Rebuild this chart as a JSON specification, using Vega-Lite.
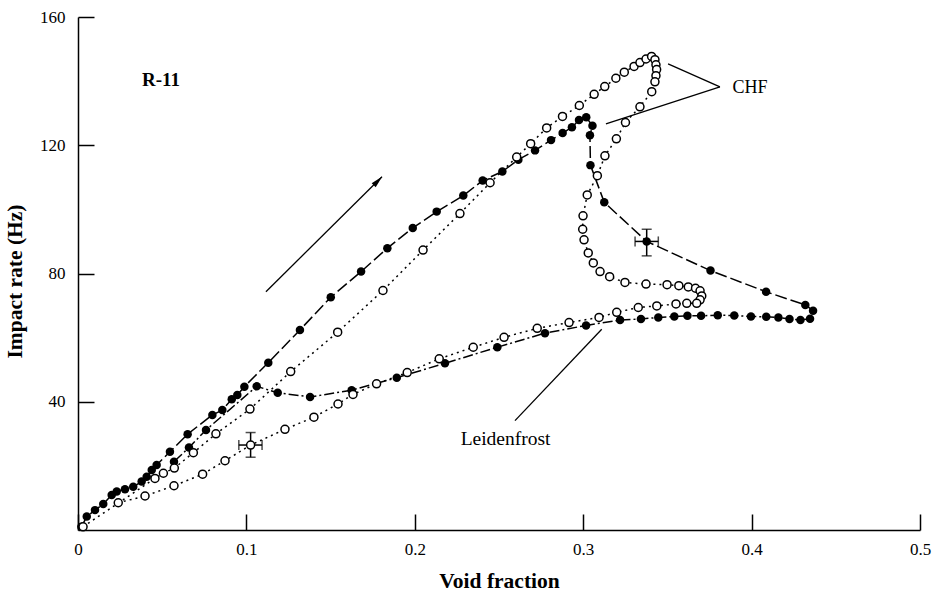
{
  "$schema": "https://vega.github.io/schema/vega-lite/v6.json",
  "width": 842,
  "height": 513,
  "autosize": {"type": "none"},
  "padding": {"left": 78, "top": 17, "right": 14, "bottom": 63},
  "background": "white",
  "config": {
    "view": {"stroke": null},
    "font": "Liberation Serif"
  },
  "datasets": {
    "curves": [
      {"series": "filled_heat", "seq": 1, "void": 0.002, "rate": 1.0},
      {"series": "filled_heat", "seq": 2, "void": 0.0052, "rate": 4.2},
      {"series": "filled_heat", "seq": 3, "void": 0.0101, "rate": 6.2},
      {"series": "filled_heat", "seq": 4, "void": 0.0150, "rate": 8.1},
      {"series": "filled_heat", "seq": 5, "void": 0.0200, "rate": 10.9},
      {"series": "filled_heat", "seq": 6, "void": 0.0230, "rate": 12.0},
      {"series": "filled_heat", "seq": 7, "void": 0.0279, "rate": 12.7},
      {"series": "filled_heat", "seq": 8, "void": 0.0328, "rate": 13.5},
      {"series": "filled_heat", "seq": 9, "void": 0.0378, "rate": 15.1},
      {"series": "filled_heat", "seq": 10, "void": 0.0408, "rate": 16.6},
      {"series": "filled_heat", "seq": 11, "void": 0.0438, "rate": 18.7},
      {"series": "filled_heat", "seq": 12, "void": 0.0467, "rate": 20.3},
      {"series": "filled_heat", "seq": 13, "void": 0.0546, "rate": 24.4},
      {"series": "filled_heat", "seq": 14, "void": 0.0651, "rate": 29.9},
      {"series": "filled_heat", "seq": 15, "void": 0.0798, "rate": 35.9},
      {"series": "filled_heat", "seq": 16, "void": 0.0857, "rate": 37.4},
      {"series": "filled_heat", "seq": 17, "void": 0.0913, "rate": 40.8},
      {"series": "filled_heat", "seq": 18, "void": 0.0946, "rate": 42.1},
      {"series": "filled_heat", "seq": 19, "void": 0.0988, "rate": 44.7},
      {"series": "filled_heat", "seq": 20, "void": 0.1130, "rate": 52.2},
      {"series": "filled_heat", "seq": 21, "void": 0.1318, "rate": 62.4},
      {"series": "filled_heat", "seq": 22, "void": 0.1501, "rate": 72.6},
      {"series": "filled_heat", "seq": 23, "void": 0.1681, "rate": 80.6},
      {"series": "filled_heat", "seq": 24, "void": 0.1837, "rate": 87.9},
      {"series": "filled_heat", "seq": 25, "void": 0.1988, "rate": 94.2},
      {"series": "filled_heat", "seq": 26, "void": 0.2130, "rate": 99.3},
      {"series": "filled_heat", "seq": 27, "void": 0.2288, "rate": 104.3},
      {"series": "filled_heat", "seq": 28, "void": 0.2403, "rate": 109.0},
      {"series": "filled_heat", "seq": 29, "void": 0.2520, "rate": 111.8},
      {"series": "filled_heat", "seq": 30, "void": 0.2615, "rate": 115.5},
      {"series": "filled_heat", "seq": 31, "void": 0.2714, "rate": 118.4},
      {"series": "filled_heat", "seq": 32, "void": 0.2809, "rate": 121.6},
      {"series": "filled_heat", "seq": 33, "void": 0.2878, "rate": 123.8},
      {"series": "filled_heat", "seq": 34, "void": 0.2933, "rate": 125.6},
      {"series": "filled_heat", "seq": 35, "void": 0.2975, "rate": 127.9},
      {"series": "filled_heat", "seq": 36, "void": 0.3018, "rate": 128.7},
      {"series": "filled_heat", "seq": 37, "void": 0.3055, "rate": 126.1},
      {"series": "filled_heat", "seq": 38, "void": 0.3040, "rate": 123.1},
      {"series": "filled_heat", "seq": 39, "void": 0.3043, "rate": 113.8},
      {"series": "filled_heat", "seq": 40, "void": 0.3125, "rate": 102.2},
      {"series": "filled_heat", "seq": 41, "void": 0.3377, "rate": 90.0},
      {"series": "filled_heat", "seq": 42, "void": 0.3756, "rate": 80.9},
      {"series": "filled_heat", "seq": 43, "void": 0.4086, "rate": 74.3},
      {"series": "filled_heat", "seq": 44, "void": 0.4319, "rate": 70.2},
      {"series": "filled_heat", "seq": 45, "void": 0.4365, "rate": 68.4},

      {"series": "filled_cool", "seq": 1, "void": 0.4347, "rate": 65.9},
      {"series": "filled_cool", "seq": 2, "void": 0.4290, "rate": 65.5},
      {"series": "filled_cool", "seq": 3, "void": 0.4225, "rate": 65.8},
      {"series": "filled_cool", "seq": 4, "void": 0.4159, "rate": 66.3},
      {"series": "filled_cool", "seq": 5, "void": 0.4087, "rate": 66.5},
      {"series": "filled_cool", "seq": 6, "void": 0.3996, "rate": 66.6},
      {"series": "filled_cool", "seq": 7, "void": 0.3897, "rate": 66.9},
      {"series": "filled_cool", "seq": 8, "void": 0.3799, "rate": 67.0},
      {"series": "filled_cool", "seq": 9, "void": 0.3700, "rate": 66.8},
      {"series": "filled_cool", "seq": 10, "void": 0.3619, "rate": 66.8},
      {"series": "filled_cool", "seq": 11, "void": 0.3541, "rate": 66.6},
      {"series": "filled_cool", "seq": 12, "void": 0.3446, "rate": 66.3},
      {"series": "filled_cool", "seq": 13, "void": 0.3343, "rate": 65.8},
      {"series": "filled_cool", "seq": 14, "void": 0.3219, "rate": 65.5},
      {"series": "filled_cool", "seq": 15, "void": 0.3017, "rate": 63.8},
      {"series": "filled_cool", "seq": 16, "void": 0.2773, "rate": 61.4},
      {"series": "filled_cool", "seq": 17, "void": 0.2490, "rate": 57.0},
      {"series": "filled_cool", "seq": 18, "void": 0.2179, "rate": 52.0},
      {"series": "filled_cool", "seq": 19, "void": 0.1893, "rate": 47.5},
      {"series": "filled_cool", "seq": 20, "void": 0.1625, "rate": 43.6},
      {"series": "filled_cool", "seq": 21, "void": 0.1378, "rate": 41.5},
      {"series": "filled_cool", "seq": 22, "void": 0.1186, "rate": 42.8},
      {"series": "filled_cool", "seq": 23, "void": 0.1061, "rate": 44.8},
      {"series": "filled_cool", "seq": 24, "void": 0.0760, "rate": 31.2},
      {"series": "filled_cool", "seq": 25, "void": 0.0659, "rate": 25.7},
      {"series": "filled_cool", "seq": 26, "void": 0.0570, "rate": 21.3},

      {"series": "open", "seq": 1, "void": 0.003, "rate": 1.0},
      {"series": "open", "seq": 2, "void": 0.0457, "rate": 16.1},
      {"series": "open", "seq": 3, "void": 0.0507, "rate": 17.7},
      {"series": "open", "seq": 4, "void": 0.0572, "rate": 19.3},
      {"series": "open", "seq": 5, "void": 0.0685, "rate": 24.1},
      {"series": "open", "seq": 6, "void": 0.0819, "rate": 30.0},
      {"series": "open", "seq": 7, "void": 0.1021, "rate": 37.7},
      {"series": "open", "seq": 8, "void": 0.1263, "rate": 49.4},
      {"series": "open", "seq": 9, "void": 0.1542, "rate": 61.7},
      {"series": "open", "seq": 10, "void": 0.1811, "rate": 74.7},
      {"series": "open", "seq": 11, "void": 0.2049, "rate": 87.3},
      {"series": "open", "seq": 12, "void": 0.2268, "rate": 98.7},
      {"series": "open", "seq": 13, "void": 0.2447, "rate": 108.3},
      {"series": "open", "seq": 14, "void": 0.2605, "rate": 116.3},
      {"series": "open", "seq": 15, "void": 0.2688, "rate": 120.5},
      {"series": "open", "seq": 16, "void": 0.2783, "rate": 125.4},
      {"series": "open", "seq": 17, "void": 0.2877, "rate": 129.0},
      {"series": "open", "seq": 18, "void": 0.2977, "rate": 132.4},
      {"series": "open", "seq": 19, "void": 0.3065, "rate": 135.9},
      {"series": "open", "seq": 20, "void": 0.3128, "rate": 138.3},
      {"series": "open", "seq": 21, "void": 0.3194, "rate": 140.9},
      {"series": "open", "seq": 22, "void": 0.3244, "rate": 142.8},
      {"series": "open", "seq": 23, "void": 0.3302, "rate": 144.6},
      {"series": "open", "seq": 24, "void": 0.3337, "rate": 145.8},
      {"series": "open", "seq": 25, "void": 0.3373, "rate": 146.9},
      {"series": "open", "seq": 26, "void": 0.3406, "rate": 147.7},
      {"series": "open", "seq": 27, "void": 0.3426, "rate": 146.7},
      {"series": "open", "seq": 28, "void": 0.3432, "rate": 145.1},
      {"series": "open", "seq": 29, "void": 0.3436, "rate": 143.6},
      {"series": "open", "seq": 30, "void": 0.3432, "rate": 141.7},
      {"series": "open", "seq": 31, "void": 0.3426, "rate": 139.8},
      {"series": "open", "seq": 32, "void": 0.3407, "rate": 136.7},
      {"series": "open", "seq": 33, "void": 0.3337, "rate": 132.0},
      {"series": "open", "seq": 34, "void": 0.3251, "rate": 127.1},
      {"series": "open", "seq": 35, "void": 0.3197, "rate": 122.0},
      {"series": "open", "seq": 36, "void": 0.3129, "rate": 116.7},
      {"series": "open", "seq": 37, "void": 0.3084, "rate": 110.5},
      {"series": "open", "seq": 38, "void": 0.3024, "rate": 104.5},
      {"series": "open", "seq": 39, "void": 0.2999, "rate": 98.0},
      {"series": "open", "seq": 40, "void": 0.2997, "rate": 93.8},
      {"series": "open", "seq": 41, "void": 0.3005, "rate": 90.5},
      {"series": "open", "seq": 42, "void": 0.3030, "rate": 86.4},
      {"series": "open", "seq": 43, "void": 0.3060, "rate": 83.3},
      {"series": "open", "seq": 44, "void": 0.3100, "rate": 80.6},
      {"series": "open", "seq": 45, "void": 0.3157, "rate": 79.0},
      {"series": "open", "seq": 46, "void": 0.3248, "rate": 77.2},
      {"series": "open", "seq": 47, "void": 0.3373, "rate": 76.7},
      {"series": "open", "seq": 48, "void": 0.3498, "rate": 76.5},
      {"series": "open", "seq": 49, "void": 0.3568, "rate": 76.2},
      {"series": "open", "seq": 50, "void": 0.3624, "rate": 75.8},
      {"series": "open", "seq": 51, "void": 0.3667, "rate": 75.4},
      {"series": "open", "seq": 52, "void": 0.3694, "rate": 74.6},
      {"series": "open", "seq": 53, "void": 0.3704, "rate": 73.0},
      {"series": "open", "seq": 54, "void": 0.3694, "rate": 71.8},
      {"series": "open", "seq": 55, "void": 0.3674, "rate": 70.7},
      {"series": "open", "seq": 56, "void": 0.3615, "rate": 70.7},
      {"series": "open", "seq": 57, "void": 0.3551, "rate": 70.5},
      {"series": "open", "seq": 58, "void": 0.3437, "rate": 69.9},
      {"series": "open", "seq": 59, "void": 0.3327, "rate": 69.4},
      {"series": "open", "seq": 60, "void": 0.3199, "rate": 67.9},
      {"series": "open", "seq": 61, "void": 0.3094, "rate": 66.3},
      {"series": "open", "seq": 62, "void": 0.2916, "rate": 64.7},
      {"series": "open", "seq": 63, "void": 0.2727, "rate": 62.9},
      {"series": "open", "seq": 64, "void": 0.2530, "rate": 60.1},
      {"series": "open", "seq": 65, "void": 0.2347, "rate": 57.0},
      {"series": "open", "seq": 66, "void": 0.2145, "rate": 53.4},
      {"series": "open", "seq": 67, "void": 0.1955, "rate": 49.1},
      {"series": "open", "seq": 68, "void": 0.1773, "rate": 45.6},
      {"series": "open", "seq": 69, "void": 0.1633, "rate": 42.3},
      {"series": "open", "seq": 70, "void": 0.1544, "rate": 39.3},
      {"series": "open", "seq": 71, "void": 0.1401, "rate": 35.2},
      {"series": "open", "seq": 72, "void": 0.1229, "rate": 31.4},
      {"series": "open", "seq": 73, "void": 0.1025, "rate": 26.5},
      {"series": "open", "seq": 74, "void": 0.0873, "rate": 21.6},
      {"series": "open", "seq": 75, "void": 0.0740, "rate": 17.4},
      {"series": "open", "seq": 76, "void": 0.0570, "rate": 13.8},
      {"series": "open", "seq": 77, "void": 0.0398, "rate": 10.6},
      {"series": "open", "seq": 78, "void": 0.0239, "rate": 8.5}
    ],
    "errors": [
      {"series": "open", "void": 0.1025, "rate": 26.5, "vlo": 0.0955, "vhi": 0.1093, "rlo": 22.7, "rhi": 30.4},
      {"series": "filled_heat", "void": 0.3377, "rate": 90.0, "vlo": 0.3308, "vhi": 0.3446, "rlo": 85.5, "rhi": 93.8}
    ],
    "leaders": [
      {"name": "arrow", "void": 0.1116, "rate": 74.3, "void2": 0.1805, "rate2": 110.2},
      {"name": "chf_upper", "void": 0.3504, "rate": 145.4, "void2": 0.3812, "rate2": 138.2},
      {"name": "chf_lower", "void": 0.3812, "rate": 138.2, "void2": 0.3135, "rate2": 126.7},
      {"name": "leidenfrost", "void": 0.2595, "rate": 34.1, "void2": 0.3110, "rate2": 62.6}
    ],
    "arrowheads": [
      {"void": 0.1776, "rate": 108.6, "heading": 45}
    ],
    "labels": [
      {"text": "R-11", "void": 0.0493, "rate": 140.4, "bold": true, "size": 19},
      {"text": "CHF", "void": 0.399, "rate": 137.9, "bold": false, "size": 18},
      {"text": "Leidenfrost", "void": 0.2539, "rate": 28.5, "bold": false, "size": 19.5}
    ]
  },
  "encoding": {
    "x": {
      "field": "void",
      "type": "quantitative",
      "scale": {"domain": [0, 0.5], "nice": false, "zero": false},
      "axis": {
        "title": "Void fraction",
        "values": [0, 0.1, 0.2, 0.3, 0.4, 0.5],
        "format": "~g",
        "grid": false,
        "domainColor": "black",
        "domainWidth": 1.5,
        "tickColor": "black",
        "tickWidth": 1.5,
        "tickSize": -16,
        "labelPadding": 27,
        "labelFont": "Liberation Serif",
        "labelFontSize": 17,
        "labelColor": "black",
        "labelFlush": false,
        "labelOverlap": false,
        "titleFont": "Liberation Serif",
        "titleFontSize": 21.5,
        "titleFontWeight": "bold",
        "titleColor": "black",
        "titleBaseline": "alphabetic",
        "titleY": 57
      }
    },
    "y": {
      "field": "rate",
      "type": "quantitative",
      "scale": {"domain": [0, 160], "nice": false, "zero": false},
      "axis": {
        "title": "Impact rate (Hz)",
        "values": [40, 80, 120, 160],
        "grid": false,
        "domainColor": "black",
        "domainWidth": 1.5,
        "tickColor": "black",
        "tickWidth": 1.5,
        "tickSize": -16,
        "labelPadding": 29,
        "labelFont": "Liberation Serif",
        "labelFontSize": 17,
        "labelColor": "black",
        "labelFlush": false,
        "labelOverlap": false,
        "titleFont": "Liberation Serif",
        "titleFontSize": 21.5,
        "titleFontWeight": "bold",
        "titleColor": "black",
        "titleAngle": -90,
        "titleBaseline": "alphabetic",
        "titleAlign": "center",
        "titleX": -57,
        "titleY": 264
      }
    }
  },
  "layer": [
    {
      "data": {"name": "curves"},
      "mark": {"type": "line", "color": "black", "strokeWidth": 1.5},
      "encoding": {
        "detail": {"field": "series"},
        "order": {"field": "seq", "type": "quantitative"},
        "strokeDash": {
          "field": "series",
          "type": "nominal",
          "scale": {
            "domain": ["filled_heat", "filled_cool", "open"],
            "range": [[12, 4], [10, 3, 2, 3], [2, 4]]
          },
          "legend": null
        }
      }
    },
    {
      "data": {"name": "errors"},
      "mark": {"type": "rule", "color": "black", "strokeWidth": 1.5},
      "encoding": {
        "x": {"field": "vlo", "type": "quantitative"},
        "x2": {"field": "vhi"}
      }
    },
    {
      "data": {"name": "errors"},
      "mark": {"type": "rule", "color": "black", "strokeWidth": 1.5},
      "encoding": {
        "y": {"field": "rlo", "type": "quantitative"},
        "y2": {"field": "rhi"}
      }
    },
    {
      "data": {"name": "errors"},
      "mark": {"type": "tick", "orient": "vertical", "color": "black", "size": 10, "thickness": 1.5},
      "encoding": {"x": {"field": "vlo", "type": "quantitative"}}
    },
    {
      "data": {"name": "errors"},
      "mark": {"type": "tick", "orient": "vertical", "color": "black", "size": 10, "thickness": 1.5},
      "encoding": {"x": {"field": "vhi", "type": "quantitative"}}
    },
    {
      "data": {"name": "errors"},
      "mark": {"type": "tick", "orient": "horizontal", "color": "black", "size": 10, "thickness": 1.5},
      "encoding": {"y": {"field": "rlo", "type": "quantitative"}}
    },
    {
      "data": {"name": "errors"},
      "mark": {"type": "tick", "orient": "horizontal", "color": "black", "size": 10, "thickness": 1.5},
      "encoding": {"y": {"field": "rhi", "type": "quantitative"}}
    },
    {
      "data": {"name": "curves"},
      "transform": [{"filter": "datum.series !== 'open'"}],
      "mark": {"type": "point", "shape": "circle", "filled": true, "color": "black", "opacity": 1, "size": 72}
    },
    {
      "data": {"name": "curves"},
      "transform": [{"filter": "datum.series === 'open'"}],
      "mark": {"type": "point", "shape": "circle", "filled": false, "fill": "white", "fillOpacity": 1, "stroke": "black", "strokeWidth": 1.5, "opacity": 1, "size": 64}
    },
    {
      "data": {"name": "leaders"},
      "mark": {"type": "rule", "color": "black", "strokeWidth": 1.3},
      "encoding": {
        "x2": {"field": "void2"},
        "y2": {"field": "rate2"}
      }
    },
    {
      "data": {"name": "arrowheads"},
      "mark": {"type": "point", "shape": "M0,-1L0.38,0.65L-0.38,0.65Z", "filled": true, "color": "black", "opacity": 1, "size": 220},
      "encoding": {"angle": {"field": "heading", "type": "quantitative", "scale": null}}
    },
    {
      "data": {"name": "labels"},
      "transform": [{"filter": "datum.bold"}],
      "mark": {"type": "text", "font": "Liberation Serif", "fontWeight": "bold", "align": "center", "baseline": "middle", "color": "black"},
      "encoding": {
        "text": {"field": "text"},
        "size": {"field": "size", "type": "quantitative", "scale": null}
      }
    },
    {
      "data": {"name": "labels"},
      "transform": [{"filter": "!datum.bold"}],
      "mark": {"type": "text", "font": "Liberation Serif", "align": "center", "baseline": "middle", "color": "black"},
      "encoding": {
        "text": {"field": "text"},
        "size": {"field": "size", "type": "quantitative", "scale": null}
      }
    }
  ]
}
